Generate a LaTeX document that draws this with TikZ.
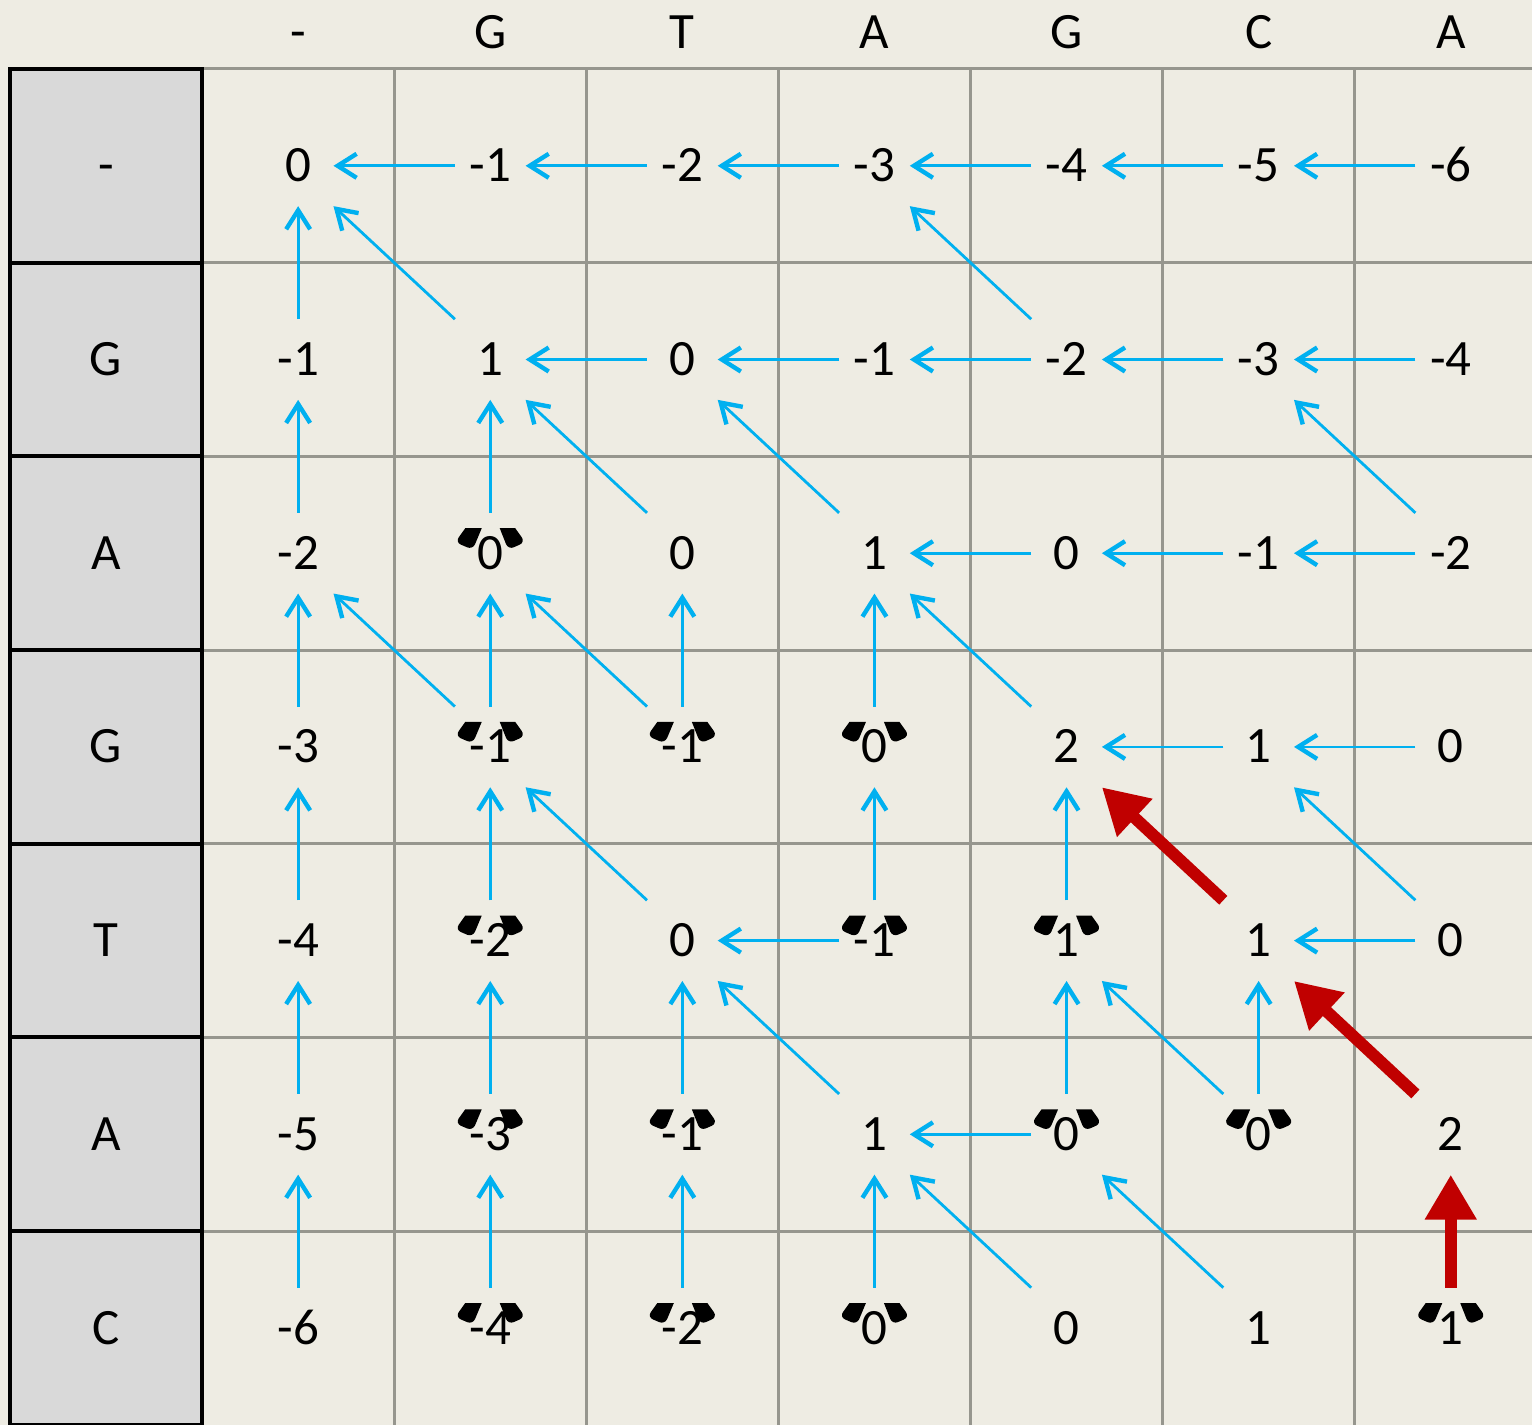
\documentclass[tikz,border=0pt]{standalone}
\usepackage{fontspec}
\setmainfont{Carlito}
\usetikzlibrary{arrows.meta}
\definecolor{paper}{HTML}{EEECE3}
\definecolor{cellgray}{HTML}{D9D9D9}
\definecolor{gridgray}{RGB}{150,150,142}
\definecolor{tblue}{HTML}{00B0F0}
\definecolor{tred}{HTML}{C00000}

\begin{document}
\begin{tikzpicture}[x=3.842cm,y=-3.874cm,
    val/.style={minimum width=1.4cm,minimum height=1.6cm,inner sep=0pt,
      text height=18.3pt,text depth=0pt,font=\fontsize{29}{34}\selectfont},
    ptr/.style={tblue,line width=1.6pt,
      -{Straight Barb[length=0.38cm,width=0.48cm,line width=2.5pt]}},
    best/.style={tred,line width=6.8pt,-{Triangle[length=0.9cm,width=0.98cm]}},
    ear/.style={fill=black,rounded corners=0.12cm}]
    \path[fill=paper,use as bounding box] (-0.052,-0.356) rectangle (7.923,7.0);
    % grid
    \foreach \i in {0,...,6} {
        \draw[gridgray,line width=1.7pt] (1,\i) -- (7.923,\i);
    }
    \foreach \j in {2,...,7} {
        \draw[gridgray,line width=1.7pt] (\j,0) -- (\j,7);
    }
    \foreach \i in {0,...,6} {
        \draw[fill=cellgray,line width=2.3pt] (0,\i) rectangle (1,\i+1);
    }
    % sequences
    \foreach \s [count=\j from 0] in {-,G,T,A,G,C,A} {
        \node[val] (h\j) at (\j+1.5,-0.19) {\s};
    }
    \foreach \s [count=\i from 0] in {-,G,A,G,T,A,C} {
        \node[val] (r\i) at (0.5,\i+0.5) {\s};
    }
    % scores
    \foreach \row [count=\i from 0] in {{0,-1,-2,-3,-4,-5,-6},{-1,1,0,-1,-2,-3,-4},
        {-2,0,0,1,0,-1,-2},{-3,-1,-1,0,2,1,0},{-4,-2,0,-1,1,1,0},
        {-5,-3,-1,1,0,0,2},{-6,-4,-2,0,0,1,1}} {
        \foreach \v [count=\j from 0] in \row {
            \node[val] (v\i\j) at (\j+1.5,\i+0.5) {\v};
        }
    }
    \foreach \i/\j in {2/1,3/1,3/2,3/3,4/1,4/3,4/4,5/1,5/2,5/4,5/5,6/1,6/2,6/3,6/6} {
        \fill[ear,shift={(v\i\j.center)}]
            (-0.50cm,0.50cm) [sharp corners] -- (-0.17cm,0.50cm)
            [rounded corners=0.12cm] -- (-0.35cm,0.07cm) -- (-0.70cm,0.22cm)
            [sharp corners] -- cycle;
        \fill[ear,shift={(v\i\j.center)}]
            (0.50cm,0.50cm) [sharp corners] -- (0.19cm,0.50cm)
            [rounded corners=0.12cm] -- (0.36cm,0.07cm) -- (0.70cm,0.22cm)
            [sharp corners] -- cycle;
    }
    % traceback pointers
    \foreach \i/\j [evaluate=\j as \k using int(\j-1)] in {0/1,0/2,0/3,0/4,0/5,0/6,
        1/2,1/3,1/4,1/5,1/6,2/4,2/5,2/6,3/5,3/6,4/3,4/6,5/4} {
        \draw[ptr] (v\i\j.west) -- (v\i\k.east);
    }
    \foreach \i/\j [evaluate=\i as \h using int(\i-1)] in {1/0,2/0,2/1,3/0,3/1,3/2,3/3,
        4/0,4/1,4/3,4/4,5/0,5/1,5/2,5/4,5/5,6/0,6/1,6/2,6/3} {
        \draw[ptr] (v\i\j.north) -- (v\h\j.south);
    }
    \foreach \i/\j [evaluate=\i as \h using int(\i-1),evaluate=\j as \k using int(\j-1)]
        in {1/1,1/4,2/2,2/3,2/6,3/1,3/2,3/4,4/2,4/6,5/3,5/5,6/4,6/5} {
        \draw[ptr] (v\i\j.north west) -- (v\h\k.south east);
    }
    % optimal path
    \draw[best] (v66.north) -- (v56.south);
    \draw[best] (v56.north west) -- (v45.south east);
    \draw[best] (v45.north west) -- (v34.south east);
\end{tikzpicture}
\end{document}
